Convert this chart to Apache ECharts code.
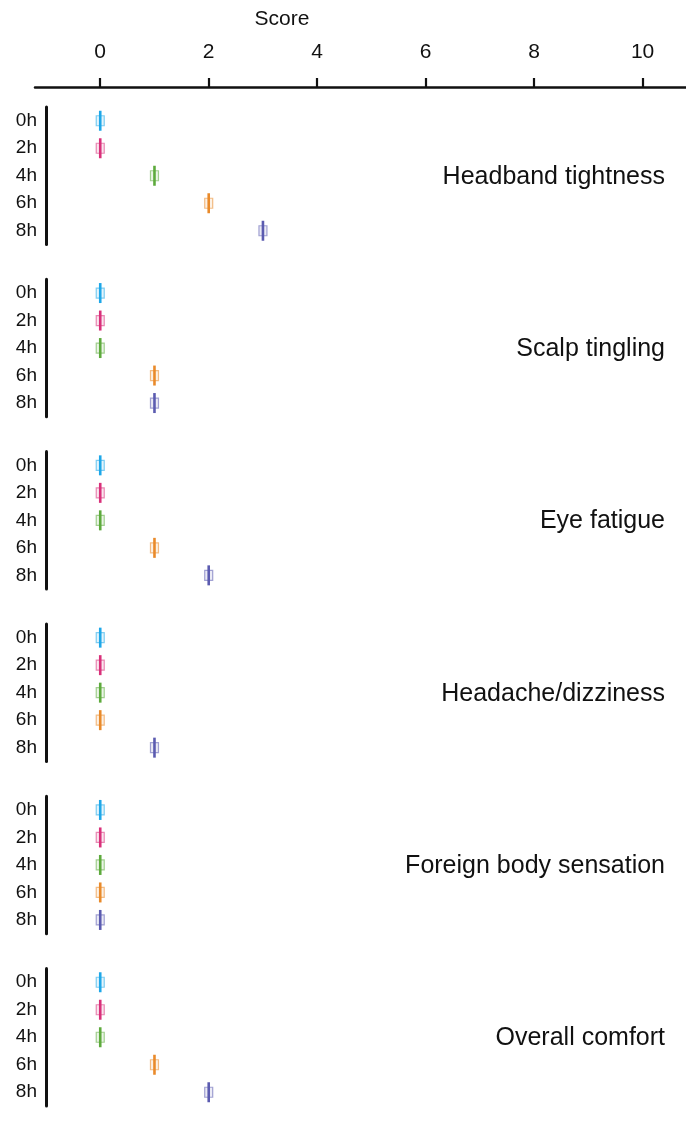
<!DOCTYPE html>
<html><head><meta charset="utf-8">
<script src="https://cdn.jsdelivr.net/npm/echarts@6/dist/echarts.min.js"></script>
<style>html,body{margin:0;padding:0;background:#fff}#c{width:686px;height:1122px}</style>
</head><body><div id="c"></div>
<script>
const timepoints = ['0h','2h','4h','6h','8h'];
const symptoms = ['Headband tightness','Scalp tingling','Eye fatigue','Headache/dizziness','Foreign body sensation','Overall comfort'];
const headband = [0,0,1,2,3];
const scalp = [0,0,0,1,1];
const eye = [0,0,0,1,2];
const headache = [0,0,0,0,1];
const foreignBody = [0,0,0,0,0];
const overall = [0,0,0,1,2];
const scoreTicks = [0,2,4,6,8,10];
const colors = ['#1EA7E8','#D9307A','#5DAA3C','#E98A2A','#5B5BB0'];

const groups = [headband, scalp, eye, headache, foreignBody, overall];
const font = 'Liberation Sans, Arial, sans-serif';
const top0 = 107, step = 172.3, gh = 137.5;

const grid = [{left:35, right:0, top:87, height:1}];
const xAxis = [{
  gridIndex:0, type:'value', position:'top', min:-1.2, max:10.8,
  splitLine:{show:false},
  axisLine:{show:true, onZero:false, lineStyle:{color:'#111', width:2.5}},
  axisTick:{show:true, customValues:scoreTicks, length:9, lineStyle:{color:'#111', width:2.2}},
  axisLabel:{show:true, customValues:scoreTicks, color:'#111', fontSize:21, fontFamily:font, margin:24}
}];
const yAxis = [{gridIndex:0, type:'value', show:false}];
const series = [];
groups.forEach((vals, g) => {
  const gi = g + 1;
  grid.push({left:46, right:0, top: top0 + g*step, height: gh});
  xAxis.push({gridIndex:gi, type:'value', min:-1, max:10.8, show:false, splitLine:{show:false}});
  yAxis.push({gridIndex:gi, type:'category', data:timepoints, inverse:true,
    axisLine:{show:true, onZero:false, lineStyle:{color:'#111', width:3}},
    axisTick:{show:false}, splitLine:{show:false},
    axisLabel:{color:'#111', fontSize:19, fontFamily:font, margin:9}});
  series.push({
    type:'custom', xAxisIndex:gi, yAxisIndex:gi,
    data: vals.map((v,i)=>[v,i]),
    renderItem:(params, api) => {
      const p = api.coord([api.value(0), api.value(1)]);
      const c = colors[params.dataIndex];
      return {type:'group', children:[
        {type:'rect', shape:{x:p[0]-4, y:p[1]-5, width:8, height:10},
         style:{fill: echarts.color.modifyAlpha(c,0.12), stroke: echarts.color.modifyAlpha(c,0.55), lineWidth:1.2}},
        {type:'line', shape:{x1:p[0], y1:p[1]-10, x2:p[0], y2:p[1]+10},
         style:{stroke:c, lineWidth:2.6}}
      ]};
    }
  });
});

const graphic = [{type:'text', x:282, y:19, style:{text:'Score', fill:'#111', font:'21px '+font, align:'center', verticalAlign:'middle'}}];
symptoms.forEach((s,g)=>{
  graphic.push({type:'text', x:665, y: top0 + g*step + 2.5*27.5 + 1,
    style:{text:s, fill:'#111', font:'25px '+font, align:'right', verticalAlign:'middle'}});
});

const chart = echarts.init(document.getElementById('c'), null, {renderer:'canvas'});
chart.setOption({animation:false, backgroundColor:'#fff', grid, xAxis, yAxis, series, graphic});
</script></body></html>
